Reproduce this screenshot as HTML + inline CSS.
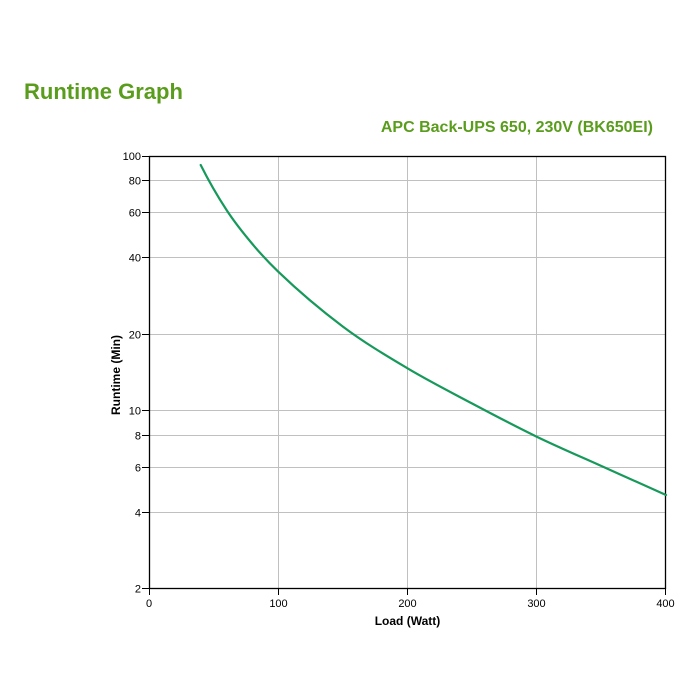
<!DOCTYPE html>
<html>
<head>
<meta charset="utf-8">
<style>
  html, body { margin: 0; padding: 0; background: #fff; }
  svg { display: block; }
  text { font-family: "Liberation Sans", Arial, sans-serif; }
</style>
</head>
<body>
<svg width="700" height="700" viewBox="0 0 700 700" xmlns="http://www.w3.org/2000/svg">
  <rect width="700" height="700" fill="#fff"/>
  <text x="24" y="99" font-size="22" font-weight="bold" fill="#5a9c1c">Runtime Graph</text>
  <text x="653" y="132" font-size="16" font-weight="bold" fill="#5a9c1c" text-anchor="end">APC Back-UPS 650, 230V (BK650EI)</text>

  <!-- grid -->
  <g stroke="#c0c0c0" stroke-width="1" fill="none">
    <line x1="278.5" y1="156" x2="278.5" y2="589"/>
    <line x1="407.5" y1="156" x2="407.5" y2="589"/>
    <line x1="536.5" y1="156" x2="536.5" y2="589"/>
    <line x1="149" y1="180.5" x2="666" y2="180.5"/>
    <line x1="149" y1="212.5" x2="666" y2="212.5"/>
    <line x1="149" y1="257.5" x2="666" y2="257.5"/>
    <line x1="149" y1="334.5" x2="666" y2="334.5"/>
    <line x1="149" y1="410.5" x2="666" y2="410.5"/>
    <line x1="149" y1="435.5" x2="666" y2="435.5"/>
    <line x1="149" y1="467.5" x2="666" y2="467.5"/>
    <line x1="149" y1="512.5" x2="666" y2="512.5"/>
  </g>

  <!-- ticks -->
  <g stroke="#000" stroke-width="1">
    <line x1="142" y1="156.5" x2="149" y2="156.5"/>
    <line x1="142" y1="180.5" x2="149" y2="180.5"/>
    <line x1="142" y1="212.5" x2="149" y2="212.5"/>
    <line x1="142" y1="257.5" x2="149" y2="257.5"/>
    <line x1="142" y1="334.5" x2="149" y2="334.5"/>
    <line x1="142" y1="410.5" x2="149" y2="410.5"/>
    <line x1="142" y1="435.5" x2="149" y2="435.5"/>
    <line x1="142" y1="467.5" x2="149" y2="467.5"/>
    <line x1="142" y1="512.5" x2="149" y2="512.5"/>
    <line x1="142" y1="588.5" x2="149" y2="588.5"/>
    <line x1="149.5" y1="589" x2="149.5" y2="595"/>
    <line x1="278.5" y1="589" x2="278.5" y2="595"/>
    <line x1="407.5" y1="589" x2="407.5" y2="595"/>
    <line x1="536.5" y1="589" x2="536.5" y2="595"/>
    <line x1="665.5" y1="589" x2="665.5" y2="595"/>
  </g>

  <!-- frame -->
  <rect x="149.5" y="156.5" width="516" height="432" fill="none" stroke="#000" stroke-width="1.3"/>

  <!-- curve -->
  <path fill="none" stroke="#16995a" stroke-width="2.2" stroke-linecap="round"
    d="M200.7,165
       C209.32,182.23 217.93,196.82 226.55,210
       C235.17,223.18 243.78,233.75 252.4,244
       C261.02,254.25 269.63,263.43 278.25,271.7
       C299.8,292.39 321.35,310.44 342.9,326.6
       C364.43,342.75 385.97,355.49 407.5,368.3
       C429.03,381.11 450.57,392.09 472.1,403.5
       C493.65,414.92 515.2,426.29 536.75,436.7
       C558.3,447.11 579.85,456.3 601.4,466
       C622.93,475.69 644.47,485.42 666,495"/>

  <!-- y labels -->
  <g font-size="11" fill="#000" text-anchor="end">
    <text x="141" y="160">100</text>
    <text x="141" y="184.5">80</text>
    <text x="141" y="216.5">60</text>
    <text x="141" y="261.5">40</text>
    <text x="141" y="338.5">20</text>
    <text x="141" y="414.5">10</text>
    <text x="141" y="439.5">8</text>
    <text x="141" y="471.5">6</text>
    <text x="141" y="516.5">4</text>
    <text x="141" y="592.5">2</text>
  </g>
  <!-- x labels -->
  <g font-size="11" fill="#000" text-anchor="middle">
    <text x="149" y="607">0</text>
    <text x="278.5" y="607">100</text>
    <text x="407.5" y="607">200</text>
    <text x="536.5" y="607">300</text>
    <text x="665.5" y="607">400</text>
  </g>

  <text x="407.5" y="625" font-size="12" font-weight="bold" text-anchor="middle" fill="#000">Load (Watt)</text>
  <text transform="translate(120,375) rotate(-90)" font-size="12" font-weight="bold" text-anchor="middle" fill="#000">Runtime (Min)</text>
</svg>
</body>
</html>
